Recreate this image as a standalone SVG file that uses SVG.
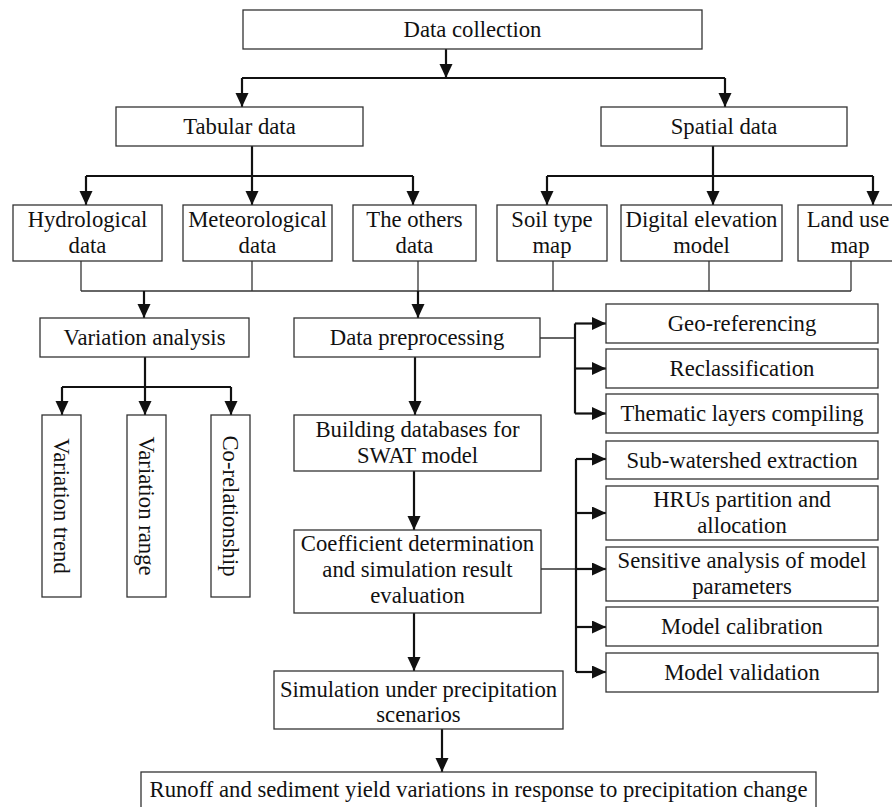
<svg xmlns="http://www.w3.org/2000/svg" width="892" height="807" viewBox="0 0 892 807">
<style>
  rect.box { fill: #fff; stroke: #333; stroke-width: 1.3; }
  text { font-family: "Liberation Serif", "Times New Roman", serif; font-size: 22.7px; fill: #111; text-anchor: middle; }
  .thick { stroke: #111; stroke-width: 2.2; fill: none; }
  .thin { stroke: #333; stroke-width: 1.3; fill: none; }
  .arr { marker-end: url(#ah); }
</style>
<defs>
  <marker id="ah" markerUnits="userSpaceOnUse" markerWidth="15" markerHeight="14" refX="14" refY="6.5" orient="auto">
    <path d="M0,0 L14,6.5 L0,13 z" fill="#111"/>
  </marker>
</defs>
<rect x="0" y="0" width="892" height="807" fill="#fff"/>

<g id="connectors">
  <line class="thick arr" x1="446" y1="49" x2="446" y2="78"/>
  <line class="thick" x1="242" y1="78" x2="725" y2="78"/>
  <line class="thick arr" x1="242" y1="78" x2="242" y2="107"/>
  <line class="thick arr" x1="725" y1="78" x2="725" y2="107"/>
  <line class="thick arr" x1="252" y1="146" x2="252" y2="205"/>
  <line class="thick" x1="86" y1="176" x2="413" y2="176"/>
  <line class="thick arr" x1="86" y1="176" x2="86" y2="205"/>
  <line class="thick arr" x1="413" y1="176" x2="413" y2="205"/>
  <line class="thick arr" x1="713" y1="146" x2="713" y2="205"/>
  <line class="thick" x1="547" y1="176" x2="873" y2="176"/>
  <line class="thick arr" x1="547" y1="176" x2="547" y2="205"/>
  <line class="thick arr" x1="873" y1="176" x2="873" y2="205"/>
  <line class="thin" x1="81" y1="261" x2="81" y2="291"/>
  <line class="thin" x1="252" y1="261" x2="252" y2="291"/>
  <line class="thin" x1="418" y1="261" x2="418" y2="291"/>
  <line class="thin" x1="553" y1="261" x2="553" y2="291"/>
  <line class="thin" x1="709" y1="261" x2="709" y2="291"/>
  <line class="thin" x1="851" y1="261" x2="851" y2="291"/>
  <line class="thin" x1="81" y1="291" x2="851" y2="291"/>
  <line class="thick arr" x1="144" y1="291" x2="144" y2="318"/>
  <line class="thick arr" x1="418" y1="291" x2="418" y2="318"/>
  <line class="thick arr" x1="145" y1="357" x2="145" y2="415"/>
  <line class="thick" x1="62" y1="387" x2="231" y2="387"/>
  <line class="thick arr" x1="62" y1="387" x2="62" y2="415"/>
  <line class="thick arr" x1="231" y1="387" x2="231" y2="415"/>
  <line class="thick arr" x1="415" y1="357" x2="415" y2="415"/>
  <line class="thin" x1="540" y1="338" x2="575" y2="338"/>
  <line class="thick" x1="575" y1="323.5" x2="575" y2="413.5"/>
  <line class="thick arr" x1="575" y1="323.5" x2="606" y2="323.5"/>
  <line class="thick arr" x1="575" y1="368.5" x2="606" y2="368.5"/>
  <line class="thick arr" x1="575" y1="413.5" x2="606" y2="413.5"/>
  <line class="thick arr" x1="414" y1="471" x2="414" y2="530"/>
  <line class="thin" x1="541" y1="569" x2="576" y2="569"/>
  <line class="thick" x1="576" y1="459" x2="576" y2="672"/>
  <line class="thick arr" x1="576" y1="459" x2="606" y2="459"/>
  <line class="thick arr" x1="576" y1="513" x2="606" y2="513"/>
  <line class="thick arr" x1="576" y1="569" x2="606" y2="569"/>
  <line class="thick arr" x1="576" y1="627" x2="606" y2="627"/>
  <line class="thick arr" x1="576" y1="672" x2="606" y2="672"/>
  <line class="thick arr" x1="414" y1="613" x2="414" y2="671"/>
  <line class="thick arr" x1="442" y1="729" x2="442" y2="772"/>
</g>

<g id="n-collection"><rect class="box" x="243" y="10" width="459" height="39"/><text x="472.5" y="37">Data collection</text></g>
<g id="n-tabular"><rect class="box" x="116" y="107" width="247" height="39"/><text x="239.5" y="134">Tabular data</text></g>
<g id="n-spatial"><rect class="box" x="601" y="107" width="246" height="39"/><text x="724" y="134">Spatial data</text></g>

<g id="n-hydro"><rect class="box" x="13" y="205" width="149" height="56"/><text x="87.5" y="227">Hydrological</text><text x="87.5" y="253">data</text></g>
<g id="n-meteo"><rect class="box" x="183" y="205" width="149" height="56"/><text x="257.5" y="227">Meteorological</text><text x="257.5" y="253">data</text></g>
<g id="n-others"><rect class="box" x="353" y="205" width="123" height="56"/><text x="414.5" y="227">The others</text><text x="414.5" y="253">data</text></g>
<g id="n-soil"><rect class="box" x="497" y="205" width="110" height="56"/><text x="552" y="227">Soil type</text><text x="552" y="253">map</text></g>
<g id="n-dem"><rect class="box" x="621" y="205" width="161" height="56"/><text x="701.5" y="227">Digital elevation</text><text x="701.5" y="253">model</text></g>
<g id="n-landuse"><rect class="box" x="798" y="205" width="110" height="56"/><text x="848" y="227">Land use</text><text x="850" y="253">map</text></g>

<g id="n-variation"><rect class="box" x="40" y="318" width="209" height="39"/><text x="144.5" y="345">Variation analysis</text></g>
<g id="n-preproc"><rect class="box" x="294" y="318" width="246" height="39"/><text x="417" y="345">Data preprocessing</text></g>

<g id="n-trend"><rect class="box" x="42" y="415" width="39" height="182"/><text transform="translate(61.5,506) rotate(90)" y="7.5">Variation trend</text></g>
<g id="n-range"><rect class="box" x="127" y="415" width="39" height="182"/><text transform="translate(146.5,506) rotate(90)" y="7.5">Variation range</text></g>
<g id="n-corr"><rect class="box" x="211" y="415" width="39" height="182"/><text transform="translate(230.5,506) rotate(90)" y="7.5">Co-relationship</text></g>

<g id="n-geo"><rect class="box" x="606" y="304" width="272" height="39"/><text x="742" y="331">Geo-referencing</text></g>
<g id="n-reclass"><rect class="box" x="606" y="349" width="272" height="39"/><text x="742" y="376">Reclassification</text></g>
<g id="n-thematic"><rect class="box" x="606" y="394" width="272" height="39"/><text x="742" y="421">Thematic layers compiling</text></g>

<g id="n-building"><rect class="box" x="294" y="415" width="247" height="56"/><text x="417.5" y="437">Building databases for</text><text x="417.5" y="463">SWAT model</text></g>

<g id="n-subws"><rect class="box" x="606" y="441" width="272" height="38"/><text x="742" y="467.5">Sub-watershed extraction</text></g>
<g id="n-hrus"><rect class="box" x="606" y="486" width="272" height="54"/><text x="742" y="507">HRUs partition and</text><text x="742" y="533">allocation</text></g>
<g id="n-sens"><rect class="box" x="606" y="547" width="272" height="54"/><text x="742" y="567.5">Sensitive analysis of model</text><text x="742" y="593.5">parameters</text></g>

<g id="n-coef"><rect class="box" x="294" y="530" width="247" height="83"/><text x="417.5" y="551">Coefficient determination</text><text x="417.5" y="577">and simulation result</text><text x="417.5" y="603">evaluation</text></g>

<g id="n-calib"><rect class="box" x="606" y="607" width="272" height="39"/><text x="742" y="634">Model calibration</text></g>
<g id="n-valid"><rect class="box" x="606" y="653" width="272" height="39"/><text x="742" y="680">Model validation</text></g>

<g id="n-sim"><rect class="box" x="274" y="671" width="289" height="58"/><text x="418.5" y="696.5">Simulation under precipitation</text><text x="418.5" y="722">scenarios</text></g>

<g id="n-runoff"><rect class="box" x="141" y="772" width="675" height="40"/><text x="478.5" y="797">Runoff and sediment yield variations in response to precipitation change</text></g>
</svg>
